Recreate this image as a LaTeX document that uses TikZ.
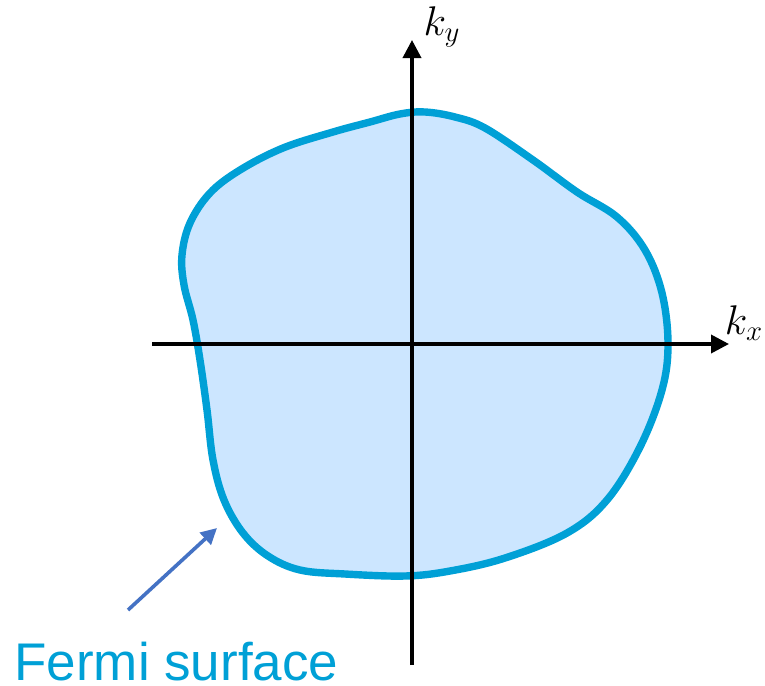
\documentclass[tikz,border=0pt]{standalone}
\usepackage{fontspec}
\newfontfamily\labelfont{Liberation Sans}
\usepackage{tikz}
\usetikzlibrary{arrows.meta,positioning}
\definecolor{fsline}{RGB}{0,160,214}
\definecolor{fsfill}{RGB}{204,230,255}
\definecolor{pointer}{RGB}{68,114,196}

\begin{document}
\begin{tikzpicture}[
  x=0.5pt,y=-0.5pt,
  axis/.style={line width=1.8pt,-{Triangle[length=9pt,width=9pt]}},
  fermi/.style={line width=3.7pt,draw=fsline,fill=fsfill},
  ptr/.style={line width=1.8pt,draw=pointer,-{Triangle[length=8pt,width=8pt]}},
  klabel/.style={font=\fontsize{20}{24}\selectfont,inner sep=0pt}
]
  \useasboundingbox (0,0) rectangle (765,685);
  % Fermi surface
  \draw[fermi] plot[smooth cycle,tension=0.6] coordinates {
    (400,114) (425,112) (455,117) (485,128) (533,160) (577,192) (617,217)
    (645,250) (662,293) (668,344) (662,390) (640,447) (607,500) (567,533)
    (505,558) (450,571) (405,576) (345,574) (300,570) (268,556) (243,533)
    (224,500) (213,460) (207,410) (200,360) (193,320) (184,285) (182,255)
    (190,223) (210,193) (240,170) (283,148) (333,132) (370,122)};
  % axes
  \coordinate (xl) at (152,344);
  \coordinate (xr) at (729,344);
  \coordinate (yb) at (412,665);
  \coordinate (yt) at (412,40);
  \draw[axis] (xl) -- (xr);
  \draw[axis] (yb) -- (yt);
  \node[klabel] (kx) at (744,323) {$k_x$};
  \node[klabel] (ky) at (442,27) {$k_y$};
  % label
  \node[text=fsline,font=\labelfont\fontsize{26.5}{30}\selectfont,inner sep=0pt,text depth=0pt,anchor=base west] (fs) at (14,680) {Fermi surface};
  \coordinate (ptail) at (128,610);
  \coordinate (phead) at (217,528);
  \draw[ptr] (ptail) -- (phead);
\end{tikzpicture}
\end{document}
